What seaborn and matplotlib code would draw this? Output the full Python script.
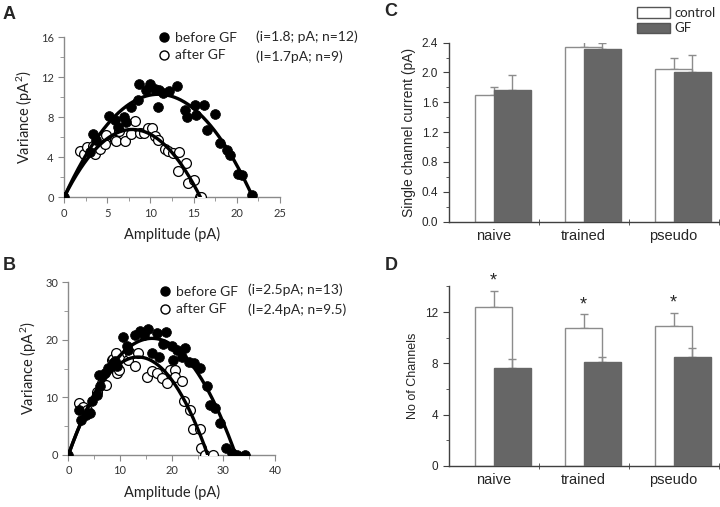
import matplotlib.pyplot as plt
import numpy as np
import pandas as pd
import seaborn as sns
from matplotlib.lines import Line2D
from matplotlib.patches import Patch
from matplotlib.ticker import MultipleLocator, FormatStrFormatter

sns.set_style('white')
plt.rcParams['font.family'] = ['Lato', 'DejaVu Sans']
plt.rcParams['mathtext.default'] = 'regular'

# Panel A: variance vs amplitude
a_before_amp = [0.0, 3.0, 3.3, 3.7, 5.2, 5.9, 6.2, 6.9, 7.2, 7.8, 8.6, 8.7, 9.5, 10.0,
                10.5, 10.9, 11.0, 11.4, 12.2, 13.1, 14.0, 14.2, 15.1, 15.3, 16.2, 16.5,
                17.5, 18.0, 18.9, 19.2, 20.1, 20.6, 21.8]
a_before_var = [0.0, 4.5, 6.3, 5.7, 8.1, 7.7, 7.0, 8.0, 7.5, 9.0, 9.7, 11.3, 10.7, 11.3,
                10.8, 9.0, 10.7, 10.4, 10.6, 11.1, 8.7, 8.0, 9.2, 8.2, 9.2, 6.7,
                8.3, 5.4, 4.7, 4.2, 2.3, 2.2, 0.2]
a_after_amp = [1.8, 2.3, 2.6, 3.35, 3.55, 4.1, 4.7, 4.8, 5.9, 6.0, 6.3, 7.0, 7.7, 8.2,
               8.8, 9.2, 9.7, 10.2, 10.5, 10.9, 11.7, 12.0, 12.6, 13.3, 13.2, 14.1,
               14.3, 15.0, 15.7, 15.9]
a_after_var = [4.6, 4.3, 5.0, 5.1, 4.3, 4.8, 5.3, 6.2, 5.7, 5.6, 6.6, 5.6, 6.3, 7.6,
               6.4, 6.4, 6.9, 6.9, 6.1, 5.7, 4.8, 4.6, 4.4, 4.5, 2.6, 3.4,
               1.4, 1.7, 0.0, 0.0]

# Panel B
b_before_amp = [0.0, 2.1, 2.45, 3.4, 4.2, 4.5, 5.5, 6.1, 6.0, 7.1, 7.7, 8.6, 9.0, 9.4,
                10.6, 11.3, 11.6, 12.9, 13.9, 14.6, 15.5, 16.1, 17.1, 17.6, 18.9, 18.4,
                20.0, 20.3, 21.1, 21.9, 22.5, 23.4, 24.4, 25.4, 26.8, 27.5, 28.4, 29.4,
                30.6, 31.6, 32.6, 34.2]
b_before_var = [0.0, 7.8, 6.1, 7.0, 7.3, 9.3, 10.4, 11.9, 13.8, 14.2, 15.1, 16.0, 16.3, 15.4,
                20.5, 18.9, 18.3, 20.9, 21.6, 20.9, 21.9, 17.8, 21.2, 17.1, 21.3, 19.2,
                18.9, 16.5, 18.3, 17.1, 18.6, 16.1, 16.0, 15.1, 11.9, 8.7, 8.1, 5.5,
                1.2, 0.3, 0.0, 0.0]
b_after_amp = [2.1, 2.8, 3.6, 5.5, 6.5, 7.3, 8.4, 8.7, 9.2, 9.4, 9.7, 11.3, 11.6, 11.9,
               12.9, 13.5, 15.2, 16.1, 17.1, 18.1, 19.0, 19.7, 20.6, 20.6, 21.9, 22.3,
               23.5, 24.2, 25.4, 25.7, 26.5, 27.9]
b_after_var = [9.0, 8.4, 7.8, 11.0, 12.5, 12.2, 16.5, 16.7, 17.7, 14.2, 14.8, 17.8, 16.5, 17.7,
               15.4, 17.7, 13.5, 14.5, 14.2, 13.3, 12.5, 14.8, 14.8, 13.6, 12.8, 9.3,
               7.8, 4.4, 4.4, 1.2, 0.0, 0.0]

# Panels C and D: mean + SEM
groups = ['naive', 'trained', 'pseudo']
current_control = [1.70, 2.34, 2.04]
current_control_err = [0.10, 0.12, 0.15]
current_gf = [1.77, 2.31, 2.01]
current_gf_err = [0.20, 0.09, 0.22]
channels_control = [12.42, 10.73, 10.94]
channels_control_err = [1.24, 1.09, 1.01]
channels_gf = [7.61, 8.08, 8.47]
channels_gf_err = [0.75, 0.39, 0.75]

fig = plt.figure(figsize=(7.2, 5.07), dpi=100)
ax_a = fig.add_axes([0.089, 0.611, 0.300, 0.316])
ax_b = fig.add_axes([0.095, 0.103, 0.287, 0.340])
ax_c = fig.add_axes([0.623, 0.563, 0.375, 0.353])
ax_d = fig.add_axes([0.623, 0.081, 0.375, 0.354])


def parabola_fit(x, y):
    # variance = i*I - I^2/N  -> least squares through the origin
    x = np.asarray(x)
    coef = np.linalg.lstsq(np.column_stack([x, x ** 2]), np.asarray(y), rcond=None)[0]
    xs = np.linspace(0, x.max(), 200)
    return xs, coef[0] * xs + coef[1] * xs ** 2


def variance_panel(ax, before_x, before_y, after_x, after_y, xmax, xstep, ymax, ystep,
                   notes, leg_anchor, note_x, note_y):
    before = pd.DataFrame({'amp': before_x, 'var': before_y})
    after = pd.DataFrame({'amp': after_x, 'var': after_y})
    sns.scatterplot(data=after, x='amp', y='var', ax=ax, s=50, color='white',
                    edgecolor='black', linewidth=0.9, zorder=3)
    sns.scatterplot(data=before, x='amp', y='var', ax=ax, s=50, color='black',
                    edgecolor='black', linewidth=0.5, zorder=4)
    for xs, ys in (parabola_fit(before_x, before_y), parabola_fit(after_x, after_y)):
        sns.lineplot(x=xs, y=ys, ax=ax, color='black', lw=2.4, sort=False, estimator=None,
                     zorder=5)
    ax.set_xlim(0, xmax)
    ax.set_ylim(0, ymax)
    ax.xaxis.set_major_locator(MultipleLocator(xstep))
    ax.xaxis.set_minor_locator(MultipleLocator(xstep / 2))
    ax.yaxis.set_major_locator(MultipleLocator(ystep))
    ax.yaxis.set_minor_locator(MultipleLocator(ystep / 2))
    ax.tick_params(which='both', direction='out', color='#8a8a8a', labelsize=8,
                   labelcolor='#333333', bottom=True, left=True)
    ax.tick_params(which='major', length=4)
    ax.tick_params(which='minor', length=3)
    sns.despine(ax=ax)
    for s in ('left', 'bottom'):
        ax.spines[s].set_color('#8a8a8a')
        ax.spines[s].set_linewidth(1.0)
    ax.set_xlabel('Amplitude (pA)', fontsize=10.5, color='#222222', labelpad=6)
    ax.set_ylabel('Variance (pA$^{2}$)', fontsize=10.5, color='#222222', labelpad=4)
    handles = [Line2D([], [], marker='o', ls='none', color='black', markersize=6.5),
               Line2D([], [], marker='o', ls='none', mfc='white', mec='black', markersize=6.5)]
    ax.legend(handles, ['before GF', 'after GF'], loc='upper left', bbox_to_anchor=leg_anchor,
              frameon=False, fontsize=10, handletextpad=0.3, labelspacing=0.4,
              borderpad=0, handlelength=1.0)
    for note, ny in zip(notes, note_y):
        ax.text(note_x, ny, note, transform=ax.transAxes, fontsize=10, va='center',
                ha='left', clip_on=False)


variance_panel(ax_a, a_before_amp, a_before_var, a_after_amp, a_after_var, 25, 5, 16, 4,
               ['(i=1.8; pA; n=12)', '(I=1.7pA; n=9)'], (0.40, 1.075), 0.89, [1.0, 0.875])
variance_panel(ax_b, b_before_amp, b_before_var, b_after_amp, b_after_var, 40, 10, 30, 10,
               ['(i=2.5pA; n=13)', '(I=2.4pA; n=9.5)'], (0.40, 1.02), 0.87, [0.955, 0.84])

arial = ['Liberation Sans', 'DejaVu Sans']


def bar_panel(ax, control, control_err, gf, gf_err, ymax, ystep, ylabel, fmt):
    pos = np.arange(len(groups))
    df_c = pd.DataFrame({'pos': pos, 'value': control})
    df_g = pd.DataFrame({'pos': pos + 0.21, 'value': gf})
    sns.barplot(data=df_c, x='pos', y='value', native_scale=True, width=0.41, color='white',
                saturation=1, edgecolor='#8c8c8c', linewidth=1.0, ax=ax, zorder=2)
    sns.barplot(data=df_g, x='pos', y='value', native_scale=True, width=0.41, color='#666666',
                saturation=1, edgecolor='#666666', linewidth=1.0, ax=ax, zorder=3)
    ax.errorbar(df_c['pos'], df_c['value'], yerr=[np.zeros(len(pos)), control_err], fmt='none',
                ecolor='#8c8c8c', elinewidth=1.0, capsize=3, zorder=1)
    ax.errorbar(df_g['pos'], df_g['value'], yerr=[np.zeros(len(pos)), gf_err], fmt='none',
                ecolor='#8c8c8c', elinewidth=1.0, capsize=3, zorder=2.5)
    ax.set_xlim(-0.5, len(groups) - 0.5)
    ax.set_ylim(0, ymax)
    ax.set_xticks(pos)
    ax.set_xticklabels(groups, fontsize=10.5, family=arial)
    ax.set_xticks(pos + 0.5, minor=True)
    ax.tick_params(axis='x', which='major', length=0, pad=5)
    ax.tick_params(axis='x', which='minor', length=4, direction='inout', bottom=True,
                   color='#404040')
    ax.yaxis.set_major_locator(MultipleLocator(ystep))
    ax.yaxis.set_minor_locator(MultipleLocator(ystep / 2))
    ax.yaxis.set_major_formatter(FormatStrFormatter(fmt))
    ax.tick_params(axis='y', which='both', direction='out', left=True, color='#404040',
                   labelsize=8.5)
    ax.tick_params(axis='y', which='major', length=4)
    ax.tick_params(axis='y', which='minor', length=2.5)
    for lab in ax.get_yticklabels():
        lab.set_family(arial)
    sns.despine(ax=ax)
    for s in ('left', 'bottom'):
        ax.spines[s].set_color('#404040')
        ax.spines[s].set_linewidth(1.0)
    ax.set_xlabel('')
    ax.set_ylabel(ylabel, family=arial, fontsize=10, labelpad=4)
    return pos


bar_panel(ax_c, current_control, current_control_err, current_gf, current_gf_err, 2.4, 0.4,
          'Single channel current (pA)', '%.1f')
ax_c.legend([Patch(facecolor='white', edgecolor='#555555'),
             Patch(facecolor='#666666', edgecolor='#555555')], ['control', 'GF'],
            loc='upper left', bbox_to_anchor=(0.672, 1.235), frameon=False, fontsize=9.5,
            handlelength=2.5, handleheight=0.85, handletextpad=0.35, labelspacing=0.25,
            borderpad=0)

pos = bar_panel(ax_d, channels_control, channels_control_err, channels_gf, channels_gf_err,
                14, 4, 'No of Channels', '%d')
ax_d.yaxis.label.set_fontsize(9)
for x, top in zip(pos, np.add(channels_control, channels_control_err)):
    ax_d.text(x, top + 0.1, '*', ha='center', va='bottom', fontsize=13, family=arial,
              clip_on=False)

for letter, (fx, fy) in zip('ABCD', [(0.004, 0.962), (0.004, 0.468), (0.534, 0.968),
                                     (0.534, 0.468)]):
    fig.text(fx, fy, letter, fontsize=13, fontweight='bold', family=arial)

fig.savefig('out.png', dpi=100)
